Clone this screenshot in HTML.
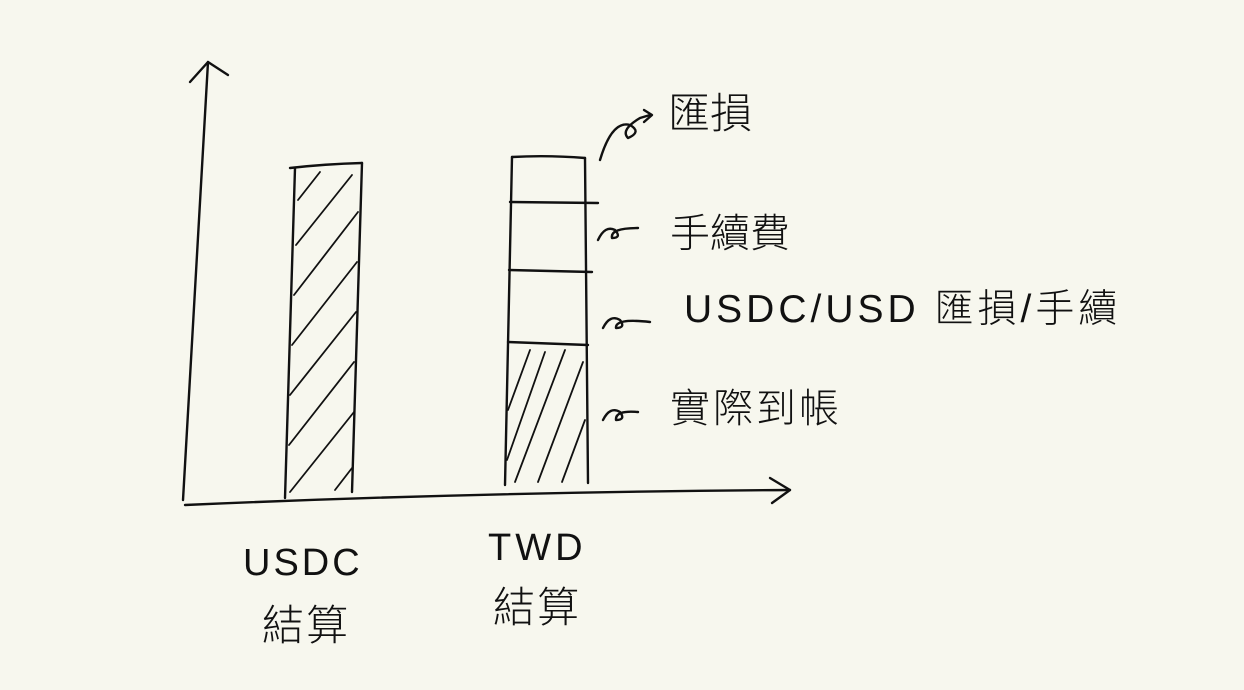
<!DOCTYPE html>
<html><head><meta charset="utf-8"><style>
html,body{margin:0;padding:0;background:#f7f7ee;}
svg{display:block}
text{font-family:"Liberation Sans","Noto Sans CJK TC",sans-serif;font-weight:300;fill:#111;}
</style></head><body>
<svg width="1244" height="690" viewBox="0 0 1244 690" xmlns="http://www.w3.org/2000/svg">
<rect width="1244" height="690" fill="#f7f7ee"/>
<g stroke="#111" stroke-width="2.4" fill="none" stroke-linecap="round" stroke-linejoin="round">
<path d="M183 500 Q195 280 208 62"/>
<path d="M190 82 L208 62 L228 75"/>
<path d="M185 505 Q480 492 790 490"/>
<path d="M770 478 L790 490 L772 503"/>
<path d="M290 168 Q325 164 362 163"/>
<path d="M295 168 L285 498"/>
<path d="M362 163 L352 492"/>
<g stroke-width="1.8">
<path d="M298 200 L320 172"/>
<path d="M296 245 L352 175"/>
<path d="M294 295 L358 212"/>
<path d="M292 345 L357 262"/>
<path d="M290 395 L356 312"/>
<path d="M289 445 L354 362"/>
<path d="M290 492 L354 412"/>
<path d="M335 490 L352 468"/>
</g>
<path d="M512 157 Q548 155 585 158"/>
<path d="M512 157 L505 485"/>
<path d="M585 158 L588 483"/>
<path d="M510 202 L598 203"/>
<path d="M509 270 L592 272"/>
<path d="M508 342 L588 345"/>
<g stroke-width="1.8">
<path d="M508 410 L530 350"/>
<path d="M507 460 L545 352"/>
<path d="M515 482 L565 350"/>
<path d="M538 482 L583 362"/>
<path d="M562 482 L585 420"/>
</g>
<path d="M600 160 Q612 120 630 125 Q642 132 628 138 Q620 130 640 118 L650 115"/>
<path d="M644 110 L652 115 L644 122"/>
<path d="M598 240 Q605 225 615 230 Q622 238 612 238 Q610 228 638 228"/>
<path d="M603 328 Q610 314 620 320 Q626 328 616 328 Q615 318 650 322"/>
<path d="M603 420 Q610 406 620 412 Q626 420 616 420 Q615 410 638 412"/>
</g>
<text x="668" y="128" font-size="42">匯損</text>
<text x="670" y="247" font-size="40">手續費</text>
<text x="684" y="322" font-size="39" letter-spacing="4">USDC/USD 匯損/手續</text>
<text x="670" y="422" font-size="40" letter-spacing="3">實際到帳</text>
<text x="243" y="575" font-size="38" letter-spacing="3">USDC</text>
<text x="262" y="640" font-size="42" letter-spacing="2">結算</text>
<text x="488" y="560" font-size="38" letter-spacing="4">TWD</text>
<text x="493" y="622" font-size="42" letter-spacing="2">結算</text>
</svg>
</body></html>
